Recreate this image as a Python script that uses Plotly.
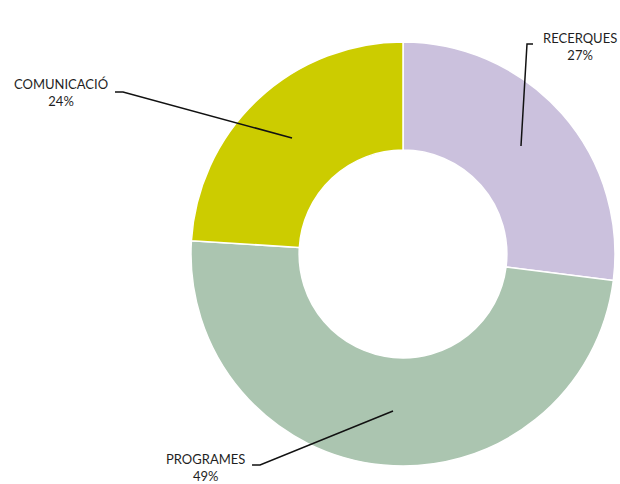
import plotly.graph_objects as go

W, H = 620, 484

categories = ["RECERQUES", "PROGRAMES", "COMUNICACIÓ"]
values = [27, 49, 24]
colors = ["#cbc1dd", "#abc5b0", "#cccc00"]

# label placement (pixel coords in the window) and leader line points
label_pos = {"RECERQUES": (580, 46), "PROGRAMES": (205, 467), "COMUNICACIÓ": (61, 93)}
leaders = {
    "RECERQUES": [(533, 44), (527, 44), (521, 146)],
    "PROGRAMES": [(252, 465), (260, 465), (393, 411)],
    "COMUNICACIÓ": [(115, 92), (123, 92), (292, 138)],
}


def px(x, y):
    return x / W, 1 - y / H


fig = go.Figure(
    go.Pie(
        labels=categories,
        values=values,
        hole=0.49,
        sort=False,
        direction="clockwise",
        rotation=0,
        marker={"colors": colors, "line": {"color": "#ffffff", "width": 1.5}},
        textinfo="none",
        hoverinfo="label+percent",
        domain={"x": [px(191, 0)[0], px(615, 0)[0]], "y": [px(0, 466)[1], px(0, 42)[1]]},
    )
)

total = sum(values)
annotations = []
for cat, val in zip(categories, values):
    x, y = px(*label_pos[cat])
    annotations.append(dict(
        x=x, y=y, xref="paper", yref="paper", showarrow=False,
        xanchor="center", yanchor="middle",
        text=f"{cat}<br>{round(100 * val / total)}%",
        font={"family": "Lato, 'Open Sans', sans-serif", "size": 13, "color": "#1f1f1f"},
        align="center",
    ))

shapes = []
for cat, pts in leaders.items():
    p = [px(*q) for q in pts]
    path = "M " + " L ".join(f"{a:.4f},{b:.4f}" for a, b in p)
    shapes.append(dict(type="path", path=path, xref="paper", yref="paper",
                       line={"color": "#111111", "width": 1.5}))

fig.update_layout(
    width=W, height=H,
    margin={"l": 0, "r": 0, "t": 0, "b": 0},
    paper_bgcolor="#ffffff",
    plot_bgcolor="#ffffff",
    showlegend=False,
    annotations=annotations,
    shapes=shapes,
)

fig.write_html(
    "out.html",
    config={"displayModeBar": False},
    post_script="document.body.style.margin='0';document.body.style.overflow='hidden';",
)
